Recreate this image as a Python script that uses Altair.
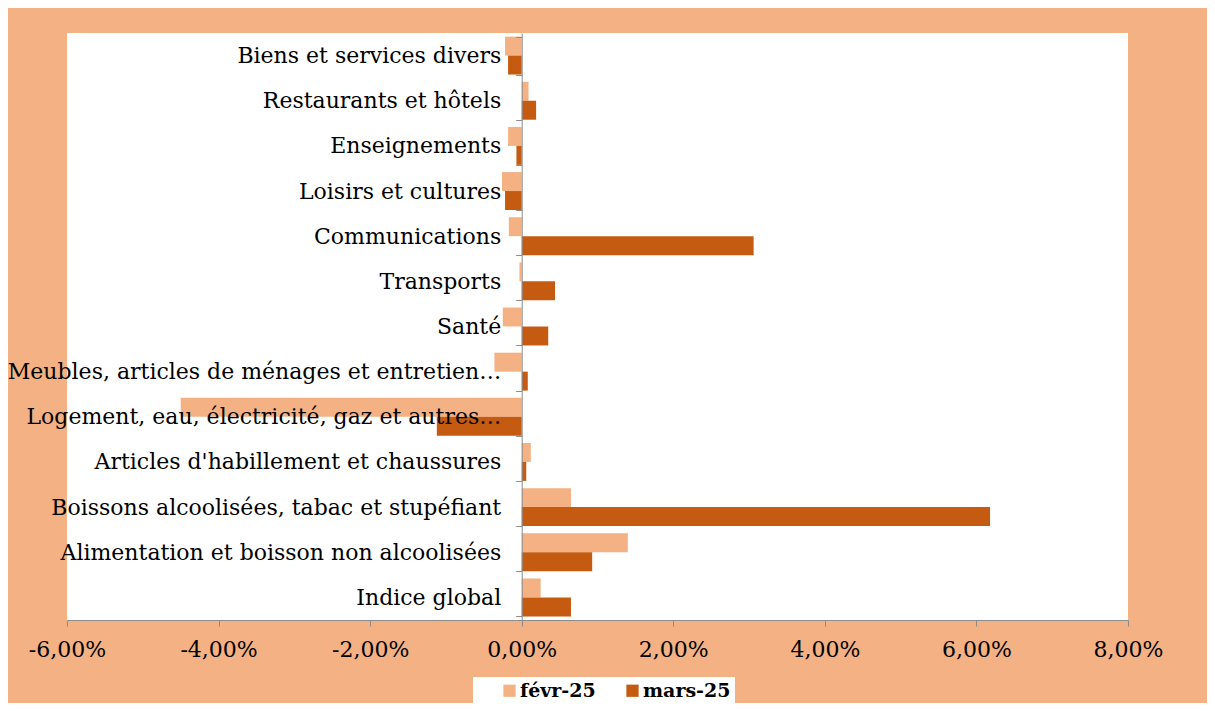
import altair as alt
import pandas as pd

categories = [
    "Biens et services divers",
    "Restaurants et hôtels",
    "Enseignements",
    "Loisirs et cultures",
    "Communications",
    "Transports",
    "Santé",
    "Meubles, articles de ménages et entretien…",
    "Logement, eau, électricité, gaz et autres…",
    "Articles d'habillement et chaussures",
    "Boissons alcoolisées, tabac et stupéfiant",
    "Alimentation et boisson non alcoolisées",
    "Indice global",
]
feb_values = [-0.22, 0.09, -0.18, -0.26, -0.17, -0.03, -0.25, -0.36, -4.50, 0.12, 0.65, 1.40, 0.25]
mar_values = [-0.18, 0.19, -0.07, -0.22, 3.06, 0.44, 0.35, 0.08, -1.12, 0.06, 6.18, 0.93, 0.65]
series = ["févr-25", "mars-25"]
colors = ["#F4B183", "#C55A11"]
x_ticks = [-6, -4, -2, 0, 2, 4, 6, 8]

rows = []
for c, f, m in zip(categories, feb_values, mar_values):
    rows.append({"cat": c, "serie": series[0], "val": f})
    rows.append({"cat": c, "serie": series[1], "val": m})
df = pd.DataFrame(rows)

W, H = 1061, 587
label_expr = "(datum.value < 0 ? '-' : '') + replace(format(abs(datum.value), '.2f'), '.', ',') + '%'"

chart = alt.Chart(df).mark_bar().encode(
    x=alt.X("val:Q",
            scale=alt.Scale(domain=[-6, 8], nice=False, zero=False),
            axis=alt.Axis(values=x_ticks, labelExpr=label_expr, title=None, grid=False,
                          labelFlush=False, labelOverlap=False,
                          domainColor="#8c8c8c", tickColor="#8c8c8c", tickSize=6,
                          labelFontSize=22, labelPadding=13, labelColor="#000000",
                          labelFont="DejaVu Serif")),
    y=alt.Y("cat:N", sort=categories,
            scale=alt.Scale(paddingInner=0.16, paddingOuter=0.08),
            axis=alt.Axis(title=None, grid=False, offset=-(W * 6 / 14), tickBand="extent",
                          domainColor="#8c8c8c", tickColor="#8c8c8c", tickSize=6,
                          labelFontSize=22, labelPadding=15, labelColor="#000000",
                          labelFont="DejaVu Serif", labelLimit=700, zindex=1)),
    yOffset=alt.YOffset("serie:N", sort=series, scale=alt.Scale(paddingInner=0, paddingOuter=0)),
    color=alt.Color("serie:N", sort=series,
                    scale=alt.Scale(domain=series, range=colors),
                    legend=alt.Legend(title=None, orient="none", legendX=406, legendY=644,
                                      direction="horizontal", fillColor="white", padding=4,
                                      symbolType="square", symbolSize=150, symbolStrokeWidth=0,
                                      symbolOpacity=1, labelOffset=1,
                                      labelFont="DejaVu Serif", labelFontWeight="bold",
                                      labelFontSize=19, labelColor="#000000",
                                      columnPadding=4, symbolOffset=23)),
).properties(
    width=W, height=H,
    background="#F4B183",
    padding={"left": 59, "top": 25, "right": 79, "bottom": 83},
    autosize=alt.AutoSizeParams(type="none"),
).configure_view(fill="white", strokeWidth=0)

chart.save("out.html", embed_options={"renderer": "svg", "actions": False})
